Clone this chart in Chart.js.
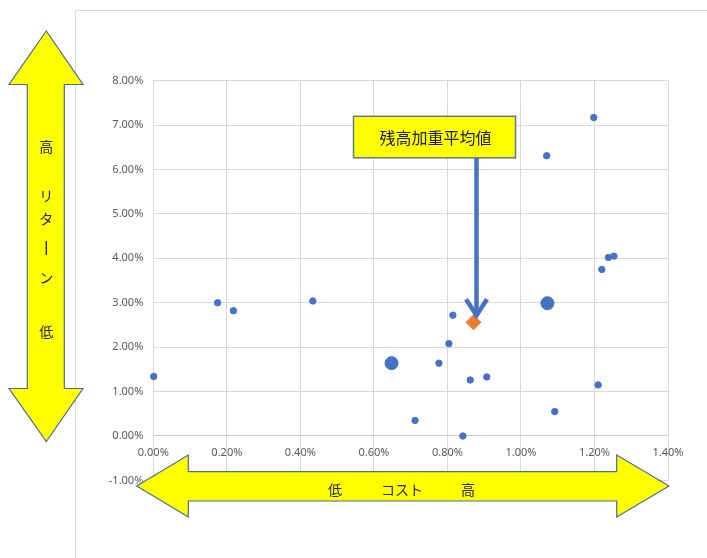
<!DOCTYPE html>
<html lang="ja">
<head>
<meta charset="utf-8">
<title>コストとリターン</title>
<script src="https://cdn.jsdelivr.net/npm/chart.js@4.4.1/dist/chart.umd.min.js"></script>
<style>
  html, body { margin: 0; padding: 0; background: #ffffff; }
  #wrap { width: 707px; height: 558px; position: relative; }
</style>
</head>
<body>
<div id="wrap"><canvas id="chart" width="707" height="558"></canvas></div>
<script>
// Funds: annual cost (%) and return (%)
const fundCost   = [0.001, 0.175, 0.218, 0.434, 0.777, 0.804, 0.815, 0.712, 0.842, 0.862, 0.907, 1.092, 1.070, 1.198, 1.220, 1.238, 1.253, 1.210];
const fundReturn = [1.34, 3.00, 2.82, 3.04, 1.64, 2.08, 2.72, 0.35, 0.00, 1.26, 1.33, 0.55, 6.31, 7.17, 3.75, 4.02, 4.05, 1.15];

// Funds with large balances
const largeCost   = [0.648, 1.072];
const largeReturn = [1.64, 2.99];

// Balance-weighted average
const avgCost   = [0.871];
const avgReturn = [2.56];

// Axis ranges and tick steps
const costAxis   = { min: 0, max: 1.4, step: 0.2 };
const returnAxis = { min: -1, max: 8, step: 1 };

// Texts
const avgLabel = '残高加重平均値';
const returnArrowLabels = ['高', 'リ', 'タ', 'ー', 'ン', '低'];
const costArrowLabels = ['低', 'コスト', '高'];

const toPoints = (xs, ys) => xs.map((x, i) => ({ x: x, y: ys[i] }));
const pct = v => Number(v).toFixed(2) + '%';

const BLUE = '#4472C4';
const ORANGE = '#ED7D31';
const YELLOW = '#FFFF00';
const OUTLINE = '#4A6C96';
const GRID = '#D9D9D9';
const TICK = '#595959';
const CJK = '"Noto Sans CJK JP", "Noto Sans", sans-serif';

// Outer frame of the chart object
const framePlugin = {
  id: 'frame',
  beforeDraw(chart) {
    const ctx = chart.ctx;
    ctx.save();
    ctx.strokeStyle = GRID;
    ctx.lineWidth = 1;
    ctx.beginPath();
    ctx.moveTo(75.5, chart.height + 1);
    ctx.lineTo(75.5, 10.5);
    ctx.lineTo(chart.width + 1, 10.5);
    ctx.stroke();
    ctx.restore();
  }
};

function blockArrowPath(ctx, pts) {
  ctx.beginPath();
  pts.forEach((p, i) => (i ? ctx.lineTo(p[0], p[1]) : ctx.moveTo(p[0], p[1])));
  ctx.closePath();
}

// Yellow double arrows, callout box and pointer arrow
const decorPlugin = {
  id: 'decor',
  afterDraw(chart) {
    const ctx = chart.ctx;
    ctx.save();

    // vertical double arrow (return)
    const vx = 46.3, vShaftL = 27.3, vShaftR = 64.3, vHeadL = 9, vHeadR = 83;
    const vTop = 31, vTopBase = 84.5, vBotBase = 388.5, vBot = 441.5;
    blockArrowPath(ctx, [
      [vx, vTop], [vHeadR, vTopBase], [vShaftR, vTopBase], [vShaftR, vBotBase],
      [vHeadR, vBotBase], [vx, vBot], [vHeadL, vBotBase], [vShaftL, vBotBase],
      [vShaftL, vTopBase], [vHeadL, vTopBase]
    ]);
    ctx.fillStyle = YELLOW;
    ctx.fill();
    ctx.strokeStyle = OUTLINE;
    ctx.lineWidth = 1.2;
    ctx.lineJoin = 'miter';
    ctx.stroke();

    ctx.fillStyle = '#262626';
    ctx.font = '14px ' + CJK;
    ctx.textAlign = 'center';
    ctx.textBaseline = 'middle';
    const vYs = [147, 196, 219, 248, 278, 332];
    returnArrowLabels.forEach((t, i) => {
      if (t === 'ー') {
        // vertical long sound mark
        ctx.fillRect(vx - 0.7, vYs[i] - 7, 1.4, 14);
      } else {
        ctx.fillText(t, vx, vYs[i]);
      }
    });

    // horizontal double arrow (cost)
    const hy = 486, hShaftT = 471.7, hShaftB = 501, hHeadT = 455, hHeadB = 517;
    const hLeft = 136.7, hLeftBase = 188.3, hRightBase = 616.7, hRight = 669;
    blockArrowPath(ctx, [
      [hLeft, hy], [hLeftBase, hHeadT], [hLeftBase, hShaftT], [hRightBase, hShaftT],
      [hRightBase, hHeadT], [hRight, hy], [hRightBase, hHeadB], [hRightBase, hShaftB],
      [hLeftBase, hShaftB], [hLeftBase, hHeadB]
    ]);
    ctx.fillStyle = YELLOW;
    ctx.fill();
    ctx.strokeStyle = OUTLINE;
    ctx.lineWidth = 1.2;
    ctx.stroke();

    ctx.fillStyle = '#262626';
    ctx.font = '14px ' + CJK;
    const hXs = [335, 402, 468];
    costArrowLabels.forEach((t, i) => ctx.fillText(t, hXs[i], 490));

    // pointer to the weighted average
    const xs = chart.scales.x, ys = chart.scales.y;
    const px = xs.getPixelForValue(avgCost[0]) + 3;
    const tipY = ys.getPixelForValue(avgReturn[0]) - 5;
    const boxL = px - 123, boxT = tipY - 201, boxW = 162, boxH = 41.5;

    ctx.strokeStyle = BLUE;
    ctx.lineWidth = 4.5;
    ctx.lineCap = 'butt';
    ctx.lineJoin = 'miter';
    ctx.beginPath();
    ctx.moveTo(px, boxT + boxH);
    ctx.lineTo(px, tipY - 2);
    ctx.stroke();
    ctx.beginPath();
    ctx.moveTo(px - 10.5, tipY - 18);
    ctx.lineTo(px, tipY - 2);
    ctx.lineTo(px + 10.5, tipY - 18);
    ctx.stroke();

    ctx.fillStyle = YELLOW;
    ctx.fillRect(boxL, boxT, boxW, boxH);
    ctx.strokeStyle = '#5E7A8C';
    ctx.lineWidth = 1.5;
    ctx.strokeRect(boxL, boxT, boxW, boxH);
    ctx.fillStyle = '#1A1A1A';
    ctx.font = '16px ' + CJK;
    ctx.fillText(avgLabel, boxL + boxW / 2 + 1, boxT + boxH / 2 + 0.5);

    ctx.restore();
  }
};

new Chart(document.getElementById('chart'), {
  type: 'scatter',
  data: {
    datasets: [
      {
        label: 'ファンド',
        data: toPoints(fundCost, fundReturn),
        backgroundColor: BLUE,
        borderColor: BLUE,
        borderWidth: 1,
        pointRadius: 3.2,
        pointHoverRadius: 3.2,
        clip: false
      },
      {
        label: '大口ファンド',
        data: toPoints(largeCost, largeReturn),
        backgroundColor: BLUE,
        borderColor: BLUE,
        borderWidth: 1,
        pointRadius: 6.5,
        pointHoverRadius: 6.5,
        clip: false
      },
      {
        label: avgLabel,
        data: toPoints(avgCost, avgReturn),
        backgroundColor: ORANGE,
        borderColor: ORANGE,
        borderWidth: 0,
        pointStyle: 'rectRot',
        pointRadius: 8,
        pointHoverRadius: 8,
        clip: false
      }
    ]
  },
  options: {
    responsive: false,
    animation: false,
    devicePixelRatio: 1,
    layout: { padding: { left: 0, top: 80.7, right: 39, bottom: 77.6 } },
    plugins: {
      legend: { display: false },
      tooltip: { enabled: false }
    },
    scales: {
      x: {
        type: 'linear',
        position: { y: 0 },
        min: costAxis.min,
        max: costAxis.max,
        ticks: {
          stepSize: costAxis.step,
          callback: v => pct(v),
          color: TICK,
          font: { family: '"Noto Sans", sans-serif', size: 11 },
          padding: 10,
          maxRotation: 0
        },
        grid: { color: GRID, drawTicks: false, lineWidth: 1 },
        border: { color: '#C8C8C8', width: 1 }
      },
      y: {
        type: 'linear',
        position: 'left',
        min: returnAxis.min,
        max: returnAxis.max,
        afterFit(scale) { scale.width = 153.3; },
        ticks: {
          stepSize: returnAxis.step,
          callback: v => pct(v),
          color: TICK,
          font: { family: '"Noto Sans", sans-serif', size: 11 },
          padding: 10
        },
        grid: { color: GRID, drawTicks: false, lineWidth: 1 },
        border: { color: GRID, width: 1 }
      }
    }
  },
  plugins: [framePlugin, decorPlugin]
});
</script>
</body>
</html>
